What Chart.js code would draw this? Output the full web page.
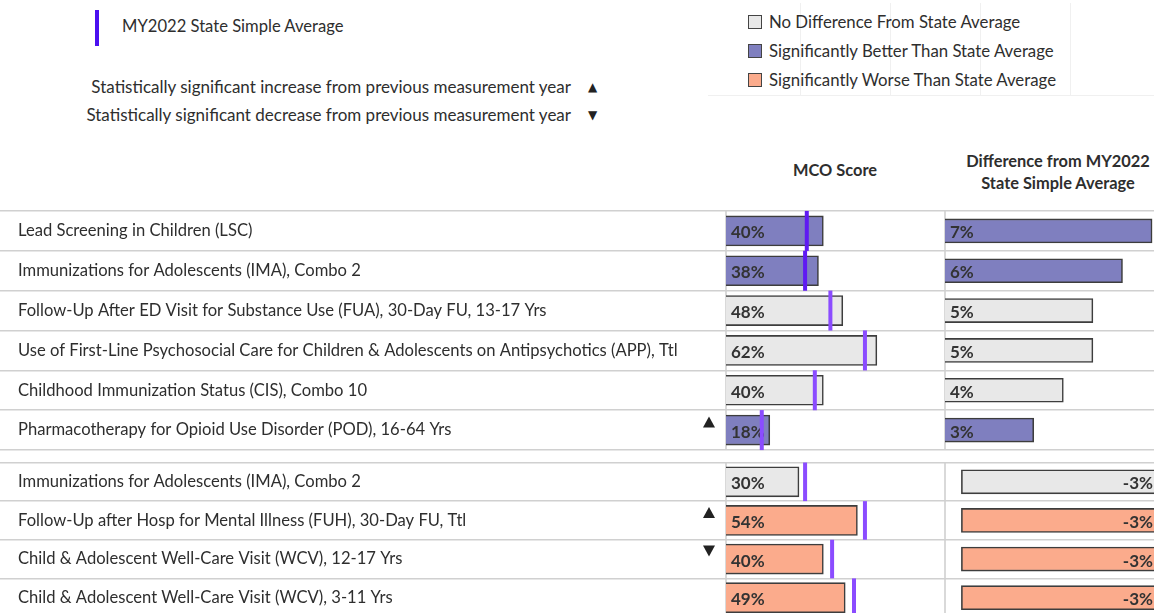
<!DOCTYPE html>
<html>
<head>
<meta charset="utf-8">
<title>MCO Score vs MY2022 State Simple Average</title>
<script src="https://cdn.jsdelivr.net/npm/chart.js@4.4.1/dist/chart.umd.min.js"></script>
<style>
  html, body { margin: 0; padding: 0; background: #fff; }
  body { position: relative; width: 1154px; height: 613px; overflow: hidden;
         font-family: Lato, "Open Sans", sans-serif; color: #2e2e2e; }
  .t { position: absolute; white-space: nowrap; font-size: 16.8px; line-height: 20px; }
  .b { font-weight: bold; font-size: 16.4px; }
  .sym { position: absolute; font-family: "DejaVu Sans", sans-serif; font-size: 12px; line-height: 14px; color: #222; }
  .sw { position: absolute; width: 12px; height: 12px; border: 1.5px solid #444; }
  .faint { position: absolute; background: #f0f0f0; }
  .wrap { position: absolute; left: 0; }
  canvas { display: block; }
</style>
</head>
<body>

<!-- reference-line legend -->
<div style="position:absolute;left:95px;top:10px;width:4px;height:36px;background:#4b10f0;"></div>
<div class="t" style="left:122px;top:16px;font-size:16.6px;">MY2022 State Simple Average</div>
<div class="t" style="right:583px;top:77px;font-size:17px;">Statistically significant increase from previous measurement year</div>
<div class="t" style="right:583px;top:105px;font-size:17px;">Statistically significant decrease from previous measurement year</div>
<div class="sym" style="left:588px;top:80px;">&#9650;</div>
<div class="sym" style="left:588px;top:108px;">&#9660;</div>

<!-- status legend -->
<div class="faint" style="left:800px;top:3px;width:1px;height:92px;"></div>
<div class="faint" style="left:890px;top:3px;width:1px;height:92px;"></div>
<div class="faint" style="left:980px;top:3px;width:1px;height:92px;"></div>
<div class="faint" style="left:1070px;top:3px;width:1px;height:92px;"></div>
<div class="faint" style="left:708px;top:95px;width:446px;height:1px;"></div>
<div class="sw" style="left:748px;top:15px;background:#e8e8e8;"></div>
<div class="t" style="left:769px;top:12px;">No Difference From State Average</div>
<div class="sw" style="left:748px;top:44px;background:#7f7fbf;"></div>
<div class="t" style="left:769px;top:41px;">Significantly Better Than State Average</div>
<div class="sw" style="left:748px;top:73px;background:#fbab8c;"></div>
<div class="t" style="left:769px;top:70px;">Significantly Worse Than State Average</div>

<!-- column headers -->
<div class="t b" style="left:735px;width:200px;text-align:center;top:160px;">MCO Score</div>
<div class="t b" style="left:958px;width:200px;text-align:center;top:150px;line-height:22px;">Difference from MY2022<br>State Simple Average</div>

<div class="wrap" style="top:206px;"><canvas id="topChart" width="1158" height="249"></canvas></div>
<div class="wrap" style="top:457px;"><canvas id="bottomChart" width="1158" height="165"></canvas></div>

<script>
// ---- Measures where the MCO is at or above the state average ----
const topMeasures = [
  "Lead Screening in Children (LSC)",
  "Immunizations for Adolescents (IMA), Combo 2",
  "Follow-Up After ED Visit for Substance Use (FUA), 30-Day FU, 13-17 Yrs",
  "Use of First-Line Psychosocial Care for Children & Adolescents on Antipsychotics (APP), Ttl",
  "Childhood Immunization Status (CIS), Combo 10",
  "Pharmacotherapy for Opioid Use Disorder (POD), 16-64 Yrs"
];
const topScores   = [40, 38, 48, 62, 40, 18];
const topStateAvg = [33.2, 32.5, 42.9, 57.1, 36.5, 14.7];
const topDiffs    = [7, 6, 5, 5, 4, 3];
const topStatus   = ["better", "better", "same", "same", "same", "better"];
const topTrend    = ["", "", "", "", "", "up"];

// ---- Measures where the MCO is below the state average ----
const bottomMeasures = [
  "Immunizations for Adolescents (IMA), Combo 2",
  "Follow-Up after Hosp for Mental Illness (FUH), 30-Day FU, Ttl",
  "Child & Adolescent Well-Care Visit (WCV), 12-17 Yrs",
  "Child & Adolescent Well-Care Visit (WCV), 3-11 Yrs"
];
const bottomScores   = [30, 54, 40, 49];
const bottomStateAvg = [32.5, 57.1, 43.6, 52.6];
const bottomDiffs    = [-3, -3, -3, -3];
const bottomStatus   = ["same", "worse", "worse", "worse"];
const bottomTrend    = ["", "up", "down", ""];

// ---- styling ----
const STATUS_FILL = { better: "#7f7fbf", same: "#e8e8e8", worse: "#fbab8c" };
const BAR_EDGE = "#3d3d3d";
const RULE = "#d0d0d0";
const TEXT = "#2e2e2e";
const AVG_DARK = "#5f1af2";
const AVG_LIGHT = "#8b4cff";
const topAvgColors = [AVG_DARK, AVG_DARK, AVG_LIGHT, AVG_LIGHT, AVG_LIGHT, AVG_LIGHT];
const bottomAvgColors = [AVG_LIGHT, AVG_LIGHT, AVG_LIGHT, AVG_LIGHT];

Chart.defaults.font.family = "Lato, 'Open Sans', sans-serif";
Chart.defaults.color = TEXT;

// Column rules, trend arrows and value labels drawn around the bars
const tableDecor = {
  id: "tableDecor",
  beforeDatasetsDraw(chart, args, opts) {
    const { ctx, chartArea } = chart;
    ctx.save();
    ctx.strokeStyle = RULE;
    ctx.lineWidth = 1.6;
    ["xMco", "xDiff"].forEach(id => {
      const s = chart.scales[id];
      ctx.beginPath();
      ctx.moveTo(s.left, chartArea.top);
      ctx.lineTo(s.left, chartArea.bottom);
      ctx.stroke();
    });
    const yScale = chart.scales.y;
    ctx.fillStyle = "#222";
    (opts.trend || []).forEach((t, i) => {
      if (!t) return;
      const cx = 709, cy = yScale.getPixelForValue(i) - 8;
      ctx.beginPath();
      if (t === "up") {
        ctx.moveTo(cx - 6, cy + 5.5); ctx.lineTo(cx + 6, cy + 5.5); ctx.lineTo(cx, cy - 5.5);
      } else {
        ctx.moveTo(cx - 6, cy - 5.5); ctx.lineTo(cx + 6, cy - 5.5); ctx.lineTo(cx, cy + 5.5);
      }
      ctx.closePath();
      ctx.fill();
    });
    ctx.restore();
  },
  afterDatasetDraw(chart, args) {
    const meta = args.meta;
    if (meta.type !== "bar") return;
    const ds = chart.data.datasets[args.index];
    const { ctx } = chart;
    ctx.save();
    ctx.font = "bold 17px Lato, 'Open Sans', sans-serif";
    ctx.fillStyle = "#333333";
    ctx.textBaseline = "middle";
    meta.data.forEach((el, i) => {
      const v = ds.data[i];
      const p = el.getProps(["x", "y", "base"], true);
      const txt = Math.round(v) + "%";
      if (v >= 0) {
        ctx.textAlign = "left";
        ctx.fillText(txt, p.base + 5, p.y + 2);
      } else {
        ctx.textAlign = "right";
        ctx.fillText(txt, p.base - 5, p.y + 2);
      }
    });
    ctx.restore();
  }
};

function buildSection(canvasId, s) {
  return new Chart(document.getElementById(canvasId), {
    type: "bar",
    data: {
      labels: s.measures,
      datasets: [
        {
          label: "State Simple Average",
          type: "line",
          indexAxis: "y",
          xAxisID: "xMco",
          data: s.avg,
          showLine: false,
          clip: false,
          pointStyle: "line",
          rotation: 90,
          pointRadius: s.markerRadius,
          pointHoverRadius: s.markerRadius,
          pointBorderWidth: 4,
          pointBorderColor: s.avgColors,
          pointBackgroundColor: s.avgColors,
          order: 0
        },
        {
          label: "MCO Score",
          xAxisID: "xMco",
          data: s.scores,
          backgroundColor: s.status.map(k => STATUS_FILL[k]),
          borderColor: BAR_EDGE,
          borderWidth: 1.6,
          borderSkipped: "start",
          barThickness: 30,
          grouped: false,
          order: 1
        },
        {
          label: "Difference",
          xAxisID: "xDiff",
          data: s.diffs,
          backgroundColor: s.status.map(k => STATUS_FILL[k]),
          borderColor: BAR_EDGE,
          borderWidth: 1.6,
          borderSkipped: "start",
          barThickness: 24,
          grouped: false,
          order: 1
        }
      ]
    },
    options: {
      indexAxis: "y",
      responsive: false,
      animation: false,
      events: [],
      layout: { autoPadding: false, padding: { left: 18, right: 0, top: s.padTop, bottom: s.padBottom } },
      scales: {
        y: {
          type: "category",
          position: "left",
          offset: true,
          grid: { offset: true, color: RULE, lineWidth: 1.6, drawTicks: true, tickLength: 726 },
          border: { display: false },
          ticks: {
            autoSkip: false,
            crossAlign: "far",
            padding: 0,
            color: TEXT,
            font: { size: 16.6 }
          },
          afterFit(scale) {
            scale.width = 708;
            scale.paddingTop = 0;
            scale.paddingBottom = 0;
          }
        },
        xMco: {
          type: "linear", axis: "x", position: "bottom",
          stack: "columns", stackWeight: 219,
          min: 0, max: 90,
          display: false
        },
        xDiff: {
          type: "linear", axis: "x", position: "bottom",
          stack: "columns", stackWeight: 213,
          min: s.diffMin, max: s.diffMax,
          display: false
        }
      },
      plugins: {
        legend: { display: false },
        tooltip: { enabled: false },
        tableDecor: { trend: s.trend }
      }
    },
    plugins: [tableDecor]
  });
}

buildSection("topChart", {
  measures: topMeasures, scores: topScores, avg: topStateAvg, diffs: topDiffs,
  status: topStatus, trend: topTrend, avgColors: topAvgColors,
  diffMin: 0, diffMax: 7.2, markerRadius: 20, padTop: 5, padBottom: 5
});

buildSection("bottomChart", {
  measures: bottomMeasures, scores: bottomScores, avg: bottomStateAvg, diffs: bottomDiffs,
  status: bottomStatus, trend: bottomTrend, avgColors: bottomAvgColors,
  diffMin: -3.25, diffMax: 0, markerRadius: 19.3, padTop: 5.5, padBottom: 5
});
</script>
</body>
</html>
